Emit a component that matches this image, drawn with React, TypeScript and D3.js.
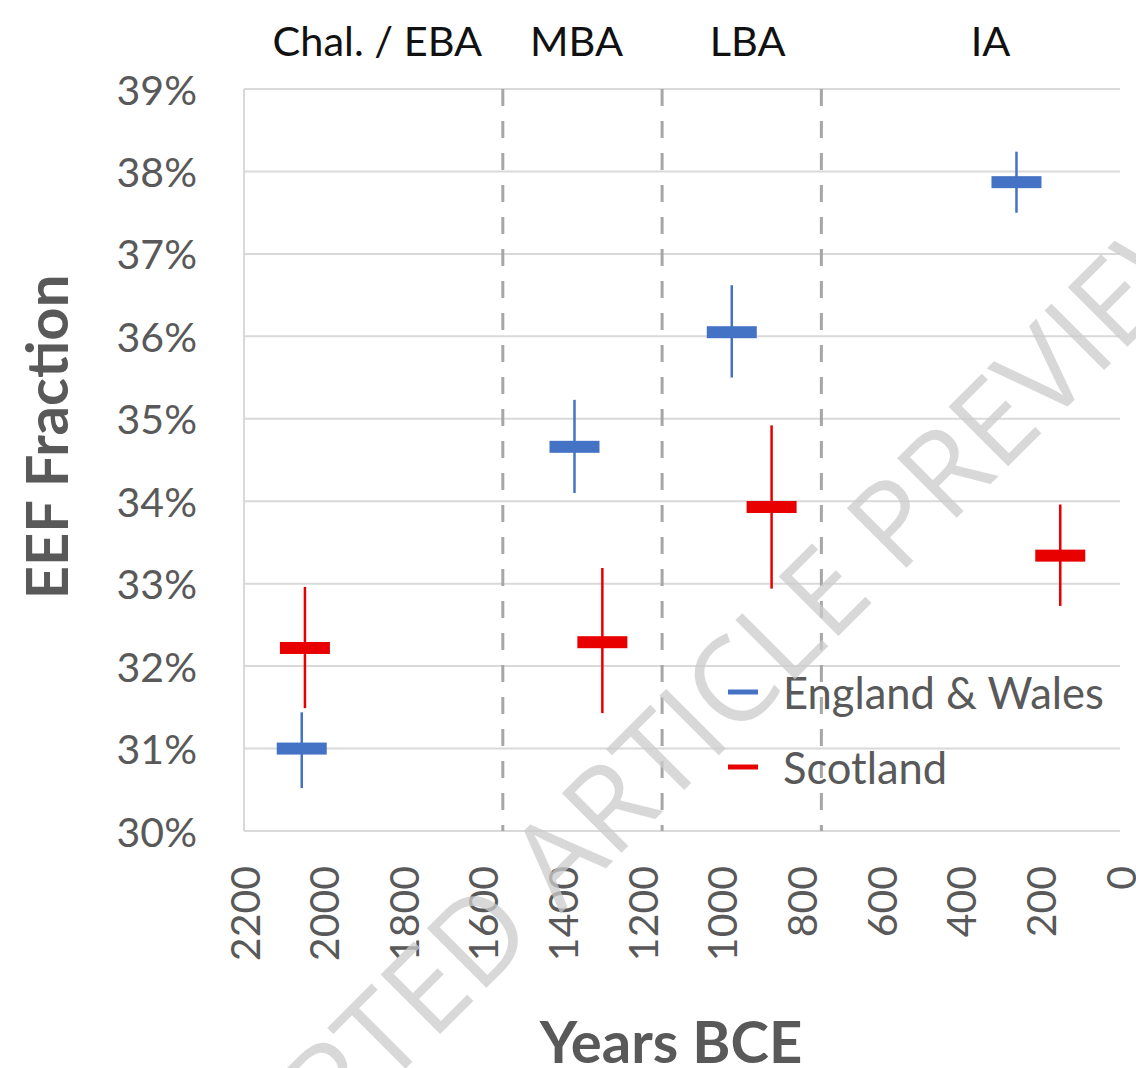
import React from "react";
import * as d3 from "d3";

const W = 1136;
const H = 1068;

const yTicks = [30, 31, 32, 33, 34, 35, 36, 37, 38, 39];
const xTicks = [2200, 2000, 1800, 1600, 1400, 1200, 1000, 800, 600, 400, 200, 0];
const boundaries = [1550, 1150, 750];
const periodLabels = ["Chal. / EBA", "MBA", "LBA", "IA"];
const periodCenters = [1865, 1365, 935, 325];

// England & Wales: year, value, low, high
const ewYear = [2055, 1370, 975, 260];
const ewVal = [31.0, 34.66, 36.05, 37.87];
const ewLow = [30.52, 34.1, 35.5, 37.5];
const ewHigh = [31.44, 35.23, 36.62, 38.24];

// Scotland
const scYear = [2047, 1300, 875, 150];
const scVal = [32.22, 32.29, 33.93, 33.34];
const scLow = [31.49, 31.43, 32.94, 32.73];
const scHigh = [32.96, 33.19, 34.92, 33.96];

const seriesNames = ["England & Wales", "Scotland"];
const BLUE = "#4472C4";
const RED = "#E80000";

export default function App() {
  const left = 244;
  const right = 1120;
  const top = 89;
  const bottom = 831;
  const x = d3.scaleLinear().domain([2200, 0]).range([left, right]);
  const y = d3.scaleLinear().domain([30, 39]).range([bottom, top]);
  const font = "Lato, 'Open Sans', sans-serif";

  const series = [
    { name: seriesNames[0], color: BLUE, year: ewYear, val: ewVal, low: ewLow, high: ewHigh },
    { name: seriesNames[1], color: RED, year: scYear, val: scVal, low: scLow, high: scHigh },
  ];

  return (
    <svg
      width={W}
      height={H}
      style={{ position: "absolute", left: 0, top: 0, background: "#fff" }}
      fontFamily={font}
    >
      <rect x={0} y={0} width={W} height={H} fill="#fff" />
      {/* gridlines */}
      {yTicks.map((t) => (
        <line key={t} x1={left} x2={right} y1={y(t)} y2={y(t)} stroke="#D9D9D9" strokeWidth={2} />
      ))}
      <line x1={left} x2={left} y1={top} y2={bottom} stroke="#D9D9D9" strokeWidth={2} />
      {/* boundaries */}
      {boundaries.map((b) => (
        <line
          key={b}
          x1={x(b)}
          x2={x(b)}
          y1={top}
          y2={bottom}
          stroke="#A6A6A6"
          strokeWidth={3}
          strokeDasharray="17,15"
        />
      ))}
      {/* y tick labels */}
      {yTicks.map((t) => (
        <text
          key={t}
          x={197}
          y={y(t)}
          textAnchor="end"
          dominantBaseline="central"
          fontSize={41}
          fill="#595959"
        >
          {t}%
        </text>
      ))}
      {/* x tick labels */}
      {xTicks.map((t) => (
        <text
          key={t}
          transform={`translate(${x(t)},866) rotate(-90)`}
          textAnchor="end"
          dominantBaseline="central"
          fontSize={41}
          fill="#595959"
        >
          {t}
        </text>
      ))}
      {/* period labels */}
      {periodLabels.map((p, i) => (
        <text
          key={p}
          x={x(periodCenters[i])}
          y={40}
          textAnchor="middle"
          dominantBaseline="central"
          fontSize={41.5}
          fill="#111"
        >
          {p}
        </text>
      ))}
      {/* data */}
      {series.map((s) =>
        s.year.map((yr, i) => (
          <g key={s.name + i}>
            <line
              x1={x(yr)}
              x2={x(yr)}
              y1={y(s.low[i])}
              y2={y(s.high[i])}
              stroke={s.color}
              strokeWidth={2.5}
            />
            <rect
              x={x(yr) - 25}
              y={y(s.val[i]) - 6}
              width={50}
              height={12}
              fill={s.color}
            />
          </g>
        ))
      )}
      {/* legend */}
      {series.map((s, i) => (
        <g key={s.name} transform={`translate(0,${692 + i * 75})`}>
          <line x1={728} x2={758} y1={0} y2={0} stroke={s.color} strokeWidth={5} />
          <text x={783} y={0} dominantBaseline="central" fontSize={43.5} fill="#595959">
            {s.name}
          </text>
        </g>
      ))}
      {/* axis titles */}
      <text
        transform="translate(45,437) rotate(-90)"
        textAnchor="middle"
        dominantBaseline="central"
        fontSize={58}
        fontWeight="bold"
        fill="#595959"
      >
        EEF Fraction
      </text>
      <text
        x={671}
        y={1040}
        textAnchor="middle"
        dominantBaseline="central"
        fontSize={58}
        fontWeight="bold"
        fill="#595959"
      >
        Years BCE
      </text>
      {/* watermark */}
      <text
        transform="translate(655,755) rotate(-45)"
        textAnchor="middle"
        dominantBaseline="central"
        fontSize={118}
        fontWeight={400}
        fill="#CCCCCC"
        opacity={0.75}
        fontFamily="'Open Sans', sans-serif"
      >
        ACCEPTED ARTICLE PREVIEW
      </text>
    </svg>
  );
}
